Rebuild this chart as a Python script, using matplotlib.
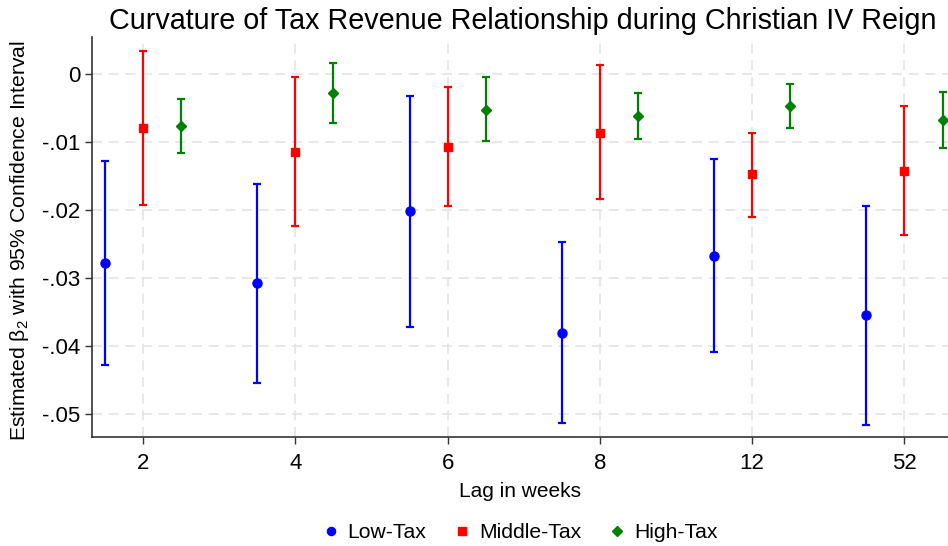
import numpy as np
import matplotlib
matplotlib.use("Agg")
import matplotlib.pyplot as plt

plt.rcParams['font.family'] = ['Liberation Sans', 'DejaVu Sans']
plt.rcParams['mathtext.fontset'] = 'custom'
plt.rcParams['mathtext.rm'] = 'Liberation Sans'
plt.rcParams['mathtext.it'] = 'Liberation Sans:italic'

# Lags (weeks) and estimates with 95% confidence bounds
lags = ['2', '4', '6', '8', '12', '52']

low_est = [-0.0278, -0.0308, -0.0202, -0.0381, -0.0267, -0.0355]
low_hi = [-0.0127, -0.0162, -0.0032, -0.0247, -0.0125, -0.0194]
low_lo = [-0.0428, -0.0455, -0.0372, -0.0514, -0.0409, -0.0516]

mid_est = [-0.0079, -0.0114, -0.0107, -0.0086, -0.0147, -0.0142]
mid_hi = [0.0034, -0.0004, -0.0019, 0.0014, -0.0086, -0.0047]
mid_lo = [-0.0192, -0.0224, -0.0194, -0.0184, -0.0210, -0.0236]

high_est = [-0.0076, -0.0028, -0.0052, -0.0062, -0.0047, -0.0067]
high_hi = [-0.0036, 0.0017, -0.0004, -0.0028, -0.0014, -0.0026]
high_lo = [-0.0116, -0.0072, -0.0098, -0.0096, -0.0079, -0.0109]

yticks = [0, -0.01, -0.02, -0.03, -0.04, -0.05]
ytick_labels = ['0', '-.01', '-.02', '-.03', '-.04', '-.05']

W, H = 948, 546
fig = plt.figure(figsize=(W / 100, H / 100), dpi=100)
ax = fig.add_axes([91.7 / W, (H - 437.3) / H, (W - 91.7) / W, (437.3 - 37.3) / H])

pos = np.arange(len(lags))
series = [
    ('Low-Tax', low_est, low_lo, low_hi, -0.25, '#0000ff', 'o', 6.5),
    ('Middle-Tax', mid_est, mid_lo, mid_hi, 0.0, '#ff0000', 's', 6.3),
    ('High-Tax', high_est, high_lo, high_hi, 0.25, '#008000', 'D', 5.5),
]

handles = []
for name, est, lo, hi, off, col, mk, ms in series:
    est = np.array(est)
    err = np.vstack([est - np.array(lo), np.array(hi) - est])
    ax.errorbar(pos + off, est, yerr=err, fmt='none', ecolor=col,
                elinewidth=1.6, capsize=3, capthick=1.6, zorder=3)
    h, = ax.plot(pos + off, est, linestyle='none', marker=mk, markersize=ms,
                 color=col, zorder=4, label=name)
    handles.append(h)

ax.set_xlim(-0.337, 5.286)
ax.set_ylim(-0.05346, 0.00545)
ax.set_xticks(pos)
ax.set_xticklabels(lags)
ax.set_yticks(yticks)
ax.set_yticklabels(ytick_labels)
ax.tick_params(axis='both', labelsize=16, length=5, width=1, color='#333333')
ax.tick_params(axis='x', pad=6)
ax.tick_params(axis='y', pad=3)

ax.grid(True, color='#e4e4e4', linestyle=(0, (6, 4)), linewidth=1.2, zorder=0)
ax.set_axisbelow(True)
for s in ['top', 'right']:
    ax.spines[s].set_visible(False)
for s in ['left', 'bottom']:
    ax.spines[s].set_color('#333333')
    ax.spines[s].set_linewidth(1.2)

ax.set_xlabel('Lag in weeks', fontsize=15, labelpad=6)
fig.text(20 / W, 1 - 241 / H, r'Estimated β$_2$ with 95% Confidence Interval',
         rotation=90, ha='center', va='center', fontsize=15.2)
fig.text(523 / W, 1 - 21 / H, 'Curvature of Tax Revenue Relationship during Christian IV Reign',
         ha='center', va='center', fontsize=20.7)

fig.legend(handles=handles, loc='center', bbox_to_anchor=(521 / W, 1 - 533 / H),
           ncol=3, frameon=False, fontsize=15.2, handlelength=0.6, handletextpad=0.5,
           columnspacing=1.4, markerscale=0.9)

fig.savefig('out.png', dpi=100)
